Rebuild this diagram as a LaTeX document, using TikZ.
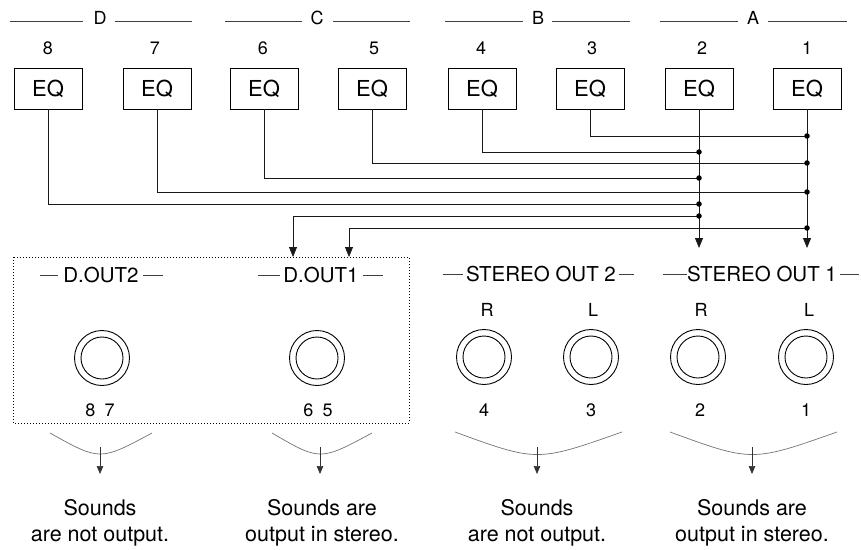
\documentclass[tikz,border=0pt]{standalone}
\usepackage{fontspec}
\setmainfont{TeX Gyre Heros}
\usetikzlibrary{arrows.meta}
\begin{document}
\begin{tikzpicture}[x=1pt,y=-1pt, line width=0.8pt,
  eqbox/.style={draw, line width=0.9pt, minimum width=68pt, minimum height=41pt, inner sep=0pt, font=\fontsize{22}{22}\selectfont},
  num/.style={anchor=base, inner sep=0pt, font=\fontsize{18}{18}\selectfont},
  grp/.style={anchor=base, inner sep=0pt, font=\fontsize{18}{18}\selectfont},
  lab/.style={anchor=base, inner sep=0pt, font=\fontsize{20.5}{20.5}\selectfont},
  note/.style={anchor=base, inner sep=0pt, font=\fontsize{21.5}{21.5}\selectfont},
  hline/.style={draw=black!75, line width=0.7pt},
  wire/.style={draw=black!90, line width=0.8pt},
  jdot/.style={circle, fill, inner sep=0pt, minimum size=5.5pt},
  bigarrow/.style={-{Triangle[length=10pt,width=8pt]}},
  smallarrow/.style={-{Triangle[length=8pt,width=6.5pt]}},
  jackout/.style={circle, draw, line width=0.9pt, minimum size=55pt, inner sep=0pt},
  jackin/.style={circle, draw, line width=0.9pt, minimum size=42pt, inner sep=0pt},
  smile/.style={draw=black!55, line width=0.7pt},
  stem/.style={draw=black!80, line width=0.7pt},
]
\useasboundingbox (0,0) rectangle (861,549);

% ---------- group headers ----------
\node[grp] (hD) at (100,24) {D};
\node[grp] (hC) at (317,24) {C};
\node[grp] (hB) at (538,24) {B};
\node[grp] (hA) at (753,24) {A};
\draw[hline] (10,21) -- (83,21);   \draw[hline] (115,21) -- (192,21);
\draw[hline] (225,21) -- (302,21); \draw[hline] (333,21) -- (410,21);
\draw[hline] (445,21) -- (523,21); \draw[hline] (552,21) -- (630,21);
\draw[hline] (660,21) -- (738,21); \draw[hline] (768,21) -- (847,21);

% ---------- channel numbers ----------
\node[num] (c8) at (48,54) {8};
\node[num] (c7) at (155,54) {7};
\node[num] (c6) at (263,54) {6};
\node[num] (c5) at (374,54) {5};
\node[num] (c4) at (481,54) {4};
\node[num] (c3) at (592,54) {3};
\node[num] (c2) at (702,54) {2};
\node[num] (c1) at (807,54) {1};

% ---------- EQ boxes ----------
\node[eqbox] (eq8) at (48,88.5) {EQ};
\node[eqbox] (eq7) at (157,88.5) {EQ};
\node[eqbox] (eq6) at (264,88.5) {EQ};
\node[eqbox] (eq5) at (372,88.5) {EQ};
\node[eqbox] (eq4) at (482,88.5) {EQ};
\node[eqbox] (eq3) at (590,88.5) {EQ};
\node[eqbox] (eq2) at (699,88.5) {EQ};
\node[eqbox] (eq1) at (807,88.5) {EQ};

% ---------- junctions ----------
\coordinate (j3) at (807,136);
\coordinate (j4) at (699,152);
\coordinate (j5) at (807,163);
\coordinate (j6) at (699,178);
\coordinate (j7) at (807,192);
\coordinate (j8) at (699,204);
\coordinate (k2) at (699,216);
\coordinate (k1) at (807,228);
\coordinate (a2) at (699,248);
\coordinate (a1) at (807,248);
\coordinate (t2) at (293,257);
\coordinate (t1) at (349,257);

% ---------- wiring ----------
\draw[wire] (eq3.south) |- (j3);
\draw[wire] (eq4.south) |- (j4);
\draw[wire] (eq5.south) |- (j5);
\draw[wire] (eq6.south) |- (j6);
\draw[wire] (eq7.south) |- (j7);
\draw[wire] (eq8.south) |- (j8);
\draw[wire,bigarrow] (eq2.south) -- (a2);
\draw[wire,bigarrow] (eq1.south) -- (a1);
\draw[wire,bigarrow] (k2) -| (t2);
\draw[wire,bigarrow] (k1) -| (t1);
\foreach \p in {j3,j4,j5,j6,j7,j8,k2,k1} \node[jdot] at (\p) {};

% ---------- D.OUT panel ----------
\draw[dotted, line width=1pt] (13,257) rectangle (409,423);
\node[lab] (ld2) at (101,282) {D.OUT2};
\node[lab] (ld1) at (321,282) {D.OUT1};
\draw[hline] (40,275) -- (58,275);   \draw[hline] (143,275) -- (163,275);
\draw[hline] (258,275) -- (280,275); \draw[hline] (363,275) -- (383,275);

\node[jackout] (d2o) at (102,358) {};
\node[jackin]  (d2i) at (102,358) {};
\node[jackout] (d1o) at (317,358) {};
\node[jackin]  (d1i) at (317,358) {};
\node[num] (n87) at (100,416) {8\hspace{0.5em}7};
\node[num] (n65) at (318,416) {6\hspace{0.5em}5};

% ---------- STEREO outputs ----------
\node[lab] (ls2) at (541,281) {STEREO OUT 2};
\node[lab] (ls1) at (762,281) {STEREO OUT 1};
\draw[hline] (443,274) -- (463,274); \draw[hline] (619,274) -- (634,274);
\draw[hline] (663,274) -- (687,274); \draw[hline] (840,274) -- (859,274);

\node[num] (r2) at (487,316) {R};
\node[num] (l2) at (593,316) {L};
\node[num] (r1) at (701,316) {R};
\node[num] (l1) at (809,316) {L};

\node[jackout] (s4o) at (484,357) {};
\node[jackin]  (s4i) at (484,357) {};
\node[jackout] (s3o) at (591,357) {};
\node[jackin]  (s3i) at (591,357) {};
\node[jackout] (s2o) at (698,357) {};
\node[jackin]  (s2i) at (698,357) {};
\node[jackout] (s1o) at (806,357) {};
\node[jackin]  (s1i) at (806,357) {};

\node[num] (n4) at (484,416) {4};
\node[num] (n3) at (591,416) {3};
\node[num] (n2) at (700,416) {2};
\node[num] (n1) at (806,416) {1};

% ---------- result braces ----------
\coordinate (b1) at (100,447);  \coordinate (e1) at (100,474);
\coordinate (b2) at (320,447);  \coordinate (e2) at (320,474);
\coordinate (b3) at (537,447);  \coordinate (e3) at (537,474);
\coordinate (b4) at (752,447);  \coordinate (e4) at (752,474);
\draw[smile] (50,433) .. controls (100,461) .. (152,433);
\draw[smile] (272,433) .. controls (320,461) .. (372,433);
\draw[smile] (455,432) .. controls (537,462) .. (622,432);
\draw[smile] (670,432) .. controls (752,462) .. (837,432);
\draw[stem,smallarrow] (b1) -- (e1);
\draw[stem,smallarrow] (b2) -- (e2);
\draw[stem,smallarrow] (b3) -- (e3);
\draw[stem,smallarrow] (b4) -- (e4);

% ---------- result texts ----------
\node[note] (r1a) at (100,515) {Sounds};
\node[note] (r1b) at (100,541) {are not output.};
\node[note] (r2a) at (322,515) {Sounds are};
\node[note] (r2b) at (322,541) {output in stereo.};
\node[note] (r3a) at (537,515) {Sounds};
\node[note] (r3b) at (537,541) {are not output.};
\node[note] (r4a) at (752,515) {Sounds are};
\node[note] (r4b) at (752,541) {output in stereo.};
\end{tikzpicture}
\end{document}
